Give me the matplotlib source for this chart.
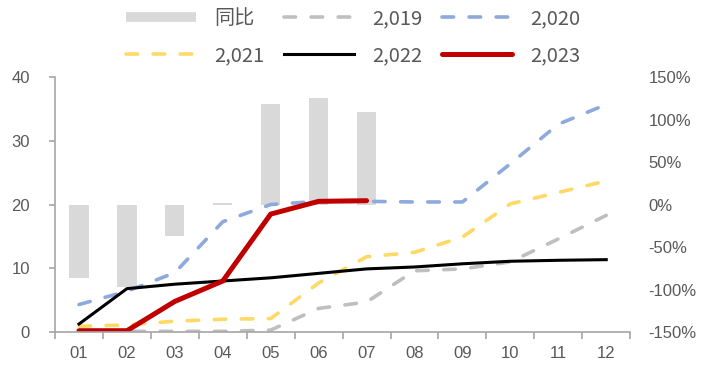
import numpy as np
import matplotlib.pyplot as plt
from matplotlib.lines import Line2D
from matplotlib.ticker import FuncFormatter

plt.rcParams['font.family'] = ['Liberation Sans', 'Noto Sans CJK SC', 'DejaVu Sans']

months = ['01', '02', '03', '04', '05', '06', '07', '08', '09', '10', '11', '12']
yoy = [-86, -97, -37, 1.5, 118, 125, 109]          # 同比, %
y2019 = [0.0, 0.1, 0.1, 0.1, 0.3, 3.7, 4.7, 9.6, 9.9, 11.0, 14.6, 18.3]
y2020 = [4.3, 6.4, 9.3, 17.3, 20.0, 20.5, 20.5, 20.4, 20.4, 26.4, 32.6, 35.7]
y2021 = [0.9, 1.1, 1.7, 2.0, 2.1, 7.7, 11.8, 12.5, 14.9, 20.1, 21.9, 23.7]
y2022 = [1.25, 6.8, 7.5, 8.0, 8.5, 9.2, 9.9, 10.2, 10.7, 11.1, 11.25, 11.35]
y2023 = [0.2, 0.2, 4.8, 8.0, 18.5, 20.5, 20.6]

grey_txt = '#595959'
x = np.arange(len(months))

fig = plt.figure(figsize=(7.01, 3.67), dpi=100)
ax = fig.add_axes([0.0785, 0.0954, 0.8205, 0.6946])
ax2 = ax.twinx()
ax.set_zorder(ax2.get_zorder() + 1)
ax.patch.set_visible(False)

ax2.bar(x[:len(yoy)], yoy, width=0.4, color='#D9D9D9')
ax2.set_ylim(-150, 150)
ax2.set_yticks(range(-150, 151, 50))
ax2.yaxis.set_major_formatter(FuncFormatter(lambda v, p: '%d%%' % v))

dash_kw = dict(lw=2.6, dashes=(3.2, 4.3), dash_capstyle='round')
l19, = ax.plot(x, y2019, color='#BFBFBF', **dash_kw)
l20, = ax.plot(x, y2020, color='#8EA9DB', **dash_kw)
l21, = ax.plot(x[:len(y2021)], y2021, color='#FFD966', **dash_kw)
l22, = ax.plot(x, y2022, color='black', lw=2.2)
l23, = ax.plot(x[:len(y2023)], y2023, color='#C00000', lw=3.6, solid_capstyle='round')

ax.set_xlim(-0.5, 11.5)
ax.set_ylim(0, 40)
ax.set_yticks(range(0, 41, 10))
ax.set_xticks(x)
ax.set_xticklabels(months)
ax.set_xticks(np.arange(-0.5, 12, 1), minor=True)
ax.tick_params(axis='x', which='major', length=0, pad=10, labelsize=12, colors=grey_txt)
ax.tick_params(axis='x', which='minor', length=5, color='#A6A6A6', width=1.2)
ax.tick_params(axis='y', length=4, color='#A6A6A6', width=1.2, pad=14,
               labelsize=12, labelcolor=grey_txt)
ax2.tick_params(axis='y', length=0, pad=13, labelsize=12, labelcolor=grey_txt)

for a in (ax, ax2):
    for s in ('top', 'right'):
        a.spines[s].set_visible(False)
ax2.spines['left'].set_visible(False)
ax2.spines['bottom'].set_visible(False)
for s in ('left', 'bottom'):
    ax.spines[s].set_color('#A6A6A6')
    ax.spines[s].set_linewidth(1.2)

# legend swatch for the bars: a thick flat band
bar_h = Line2D([], [], color='#D9D9D9', lw=7, solid_capstyle='butt')
handles = [bar_h, l21, l19, l22, l20, l23]
labels = ['同比', '2,021', '2,019', '2,022', '2,020', '2,023']
leg = fig.legend(handles, labels, ncol=3, frameon=False, loc='upper left',
                 bbox_to_anchor=(126 / 701, 1 - 8 / 367),
                 prop={'family': ['Noto Sans CJK SC', 'DejaVu Sans'], 'size': 14.5},
                 borderpad=0, borderaxespad=0, handlelength=3.5,
                 columnspacing=0.95, labelspacing=0.8, handletextpad=0.9)
for t in leg.get_texts():
    t.set_color(grey_txt)

fig.savefig('out.png', dpi=100)
